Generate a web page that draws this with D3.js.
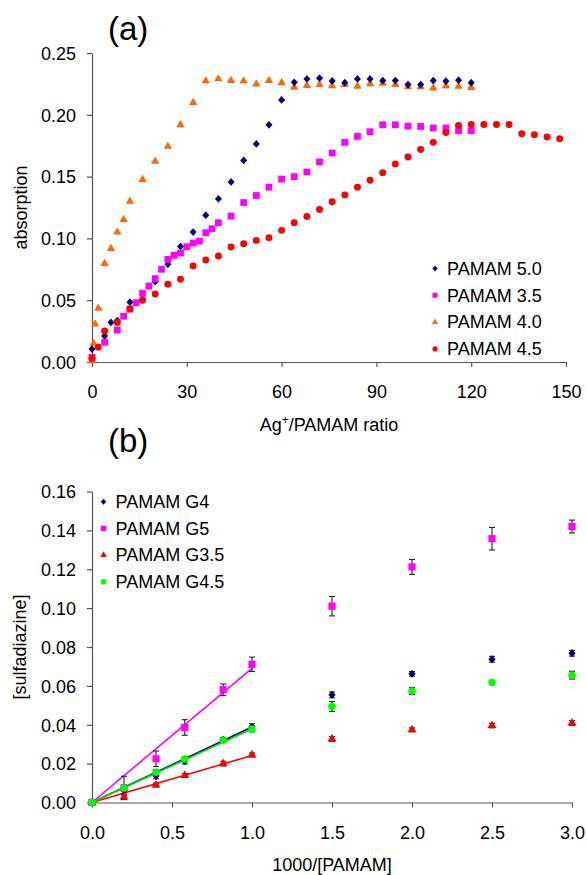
<!DOCTYPE html>
<html>
<head>
<meta charset="utf-8">
<script src="https://cdn.jsdelivr.net/npm/d3@7/dist/d3.min.js"></script>
<style>
  body { margin: 0; background: #fff; }
  text { font-family: "Liberation Sans", Arial, sans-serif; fill: #000; }
</style>
</head>
<body>
<svg id="chart" width="587" height="875"></svg>
<script>
// ---------- Panel (a): absorption vs Ag+/PAMAM ratio ----------
const ratioG50 = [0,4,6,8,12,16,20,24,28,32,36,40,44,48,52,56,60,64,68,72,76,80,84,88,92,96,100,104,108,112,116,120];
const absG50   = [0.0105,0.021,0.032,0.0335,0.0484,0.0508,0.065,0.079,0.0935,0.1051,0.1188,0.132,0.1457,0.1631,0.1764,0.1919,0.212,0.2263,0.229,0.2296,0.2274,0.226,0.229,0.229,0.2277,0.2277,0.2245,0.2245,0.2277,0.2272,0.228,0.226];

const ratioG35 = [0,4,8,10,12,14,16,18,20,22,24,26,28,30,32,34,36,38,40,44,48,52,56,60,64,68,72,76,80,84,88,92,96,100,104,108,112,116,120];
const absG35   = [0.0038,0.0159,0.0258,0.037,0.0427,0.048,0.0556,0.0615,0.0675,0.075,0.083,0.0863,0.0882,0.0933,0.0962,0.0978,0.1046,0.1078,0.1127,0.118,0.129,0.1347,0.1414,0.148,0.150,0.1537,0.1619,0.1691,0.1777,0.1825,0.1863,0.1919,0.1919,0.1909,0.1906,0.1893,0.1893,0.1871,0.1871];

const ratioG40 = [0,0.5,1,2,4,6,8,10,12,16,20,24,28,32,36,40,44,48,52,56,60,64,68,72,76,80,84,88,92,96,100,104,108,112,116,120];
const absG40   = [0.001,0.015,0.0306,0.0435,0.0796,0.0917,0.105,0.1153,0.130,0.1476,0.1623,0.1744,0.1919,0.2099,0.2274,0.229,0.2277,0.2274,0.2248,0.2277,0.2258,0.2223,0.2237,0.2245,0.2235,0.2245,0.223,0.225,0.2255,0.2245,0.2226,0.2226,0.2216,0.2235,0.223,0.222];

const ratioG45 = [0,2,4,8,12,16,20,24,28,32,36,40,44,48,52,56,60,64,68,72,76,80,84,88,92,96,100,104,108,112,116,120,124,128,132,136,140,144,148];
const absG45   = [0.003,0.012,0.025,0.032,0.043,0.050,0.055,0.063,0.067,0.0777,0.0825,0.0857,0.093,0.0957,0.0984,0.1005,0.1065,0.1127,0.1177,0.1234,0.1296,0.1352,0.1414,0.147,0.1532,0.1602,0.1659,0.172,0.1777,0.1857,0.1914,0.1922,0.1922,0.1922,0.1922,0.1847,0.1839,0.182,0.1806];

const seriesNamesA = ["PAMAM 5.0", "PAMAM 3.5", "PAMAM 4.0", "PAMAM 4.5"];
const xTicksA = [0, 30, 60, 90, 120, 150];
const yTicksA = [0, 0.05, 0.10, 0.15, 0.20, 0.25];

// ---------- Panel (b): [sulfadiazine] vs 1000/[PAMAM] ----------
const invConc = [0, 0.2, 0.4, 0.58, 0.82, 1.0, 1.5, 2.0, 2.5, 3.0];
const sulfG4   = [0, 0.0063, 0.0137, 0.0213, 0.0323, 0.039, 0.0554, 0.0662, 0.0737, 0.0768];
const sulfG5   = [0, 0.0075, 0.0225, 0.0386, 0.058, 0.0711, 0.101, 0.1212, 0.1357, 0.142];
const sulfG35  = [0, 0.0028, 0.009, 0.0139, 0.0200, 0.0245, 0.0327, 0.0374, 0.0396, 0.0409];
const sulfG45  = [0, 0.0075, 0.0156, 0.0224, 0.032, 0.0378, 0.0494, 0.0574, 0.0617, 0.0655];
const errG4    = [0, 0.002, 0.0015, 0.0015, 0.0012, 0.0015, 0.0015, 0.0012, 0.0015, 0.0015];
const errG5    = [0, 0.006, 0.004, 0.004, 0.003, 0.0037, 0.005, 0.0038, 0.0058, 0.0033];
const errG35   = [0, 0.001, 0.001, 0.001, 0.0012, 0.001, 0.0012, 0.001, 0.0012, 0.0012];
const errG45   = [0, 0.0015, 0.0012, 0.0012, 0.001, 0.0015, 0.0025, 0.0018, 0.001, 0.002];
// linear fits through the origin over the low-concentration range
const fitSlopes = { G4: 0.0388, G5: 0.069, G35: 0.0242, G45: 0.0378 };
const fitRange = [0, 1.0];

const seriesNamesB = ["PAMAM G4", "PAMAM G5", "PAMAM G3.5", "PAMAM G4.5"];
const xTicksB = [0, 0.5, 1.0, 1.5, 2.0, 2.5, 3.0];
const yTicksB = [0, 0.02, 0.04, 0.06, 0.08, 0.10, 0.12, 0.14, 0.16];

// ---------- shared styling ----------
const NAVY = "#000080", MAGENTA = "#ff00ff", ORANGE = "#ff6600", RED = "#ff0000", GREEN = "#00ff00";
const AXIS = "#555";
const FONT = 18;

// diamond marker slightly taller than wide
const diamondType = {
  draw(ctx, size) {
    const h = Math.sqrt(size) * 0.55, w = h * 0.9;
    ctx.moveTo(0, -h); ctx.lineTo(w, 0); ctx.lineTo(0, h); ctx.lineTo(-w, 0); ctx.closePath();
  }
};

const svg = d3.select("#chart");
svg.append("rect").attr("width", 587).attr("height", 875).attr("fill", "#fff");

function drawAxes(g, x, y, xTicks, yTicks, xFmt, yFmt) {
  const ax = g.append("g").attr("transform", `translate(0,${y(0)})`)
    .call(d3.axisBottom(x).tickValues(xTicks).tickFormat(xFmt).tickSize(5).tickPadding(18).tickSizeOuter(0));
  const ay = g.append("g").attr("transform", `translate(${x(0)},0)`)
    .call(d3.axisLeft(y).tickValues(yTicks).tickFormat(yFmt).tickSize(5).tickPadding(11).tickSizeOuter(0));
  [ax, ay].forEach(a => {
    a.select(".domain").attr("stroke", AXIS).attr("stroke-width", 1.2);
    a.selectAll(".tick line").attr("stroke", AXIS).attr("stroke-width", 1.2);
    a.selectAll(".tick text").attr("font-size", FONT).attr("font-family", '"Liberation Sans", Arial, sans-serif').attr("fill", "#000");
  });
  ax.selectAll(".tick text").attr("dy", null).attr("y", 36);
  ay.selectAll(".tick text").attr("dy", "0.35em");
}

function drawPoints(g, xs, ys, x, y, type, size, color) {
  g.append("g").selectAll("path")
    .data(xs.map((d, i) => [d, ys[i]]))
    .join("path")
    .attr("transform", d => `translate(${x(d[0])},${y(d[1])})`)
    .attr("d", d3.symbol().type(type).size(size))
    .attr("fill", color);
}

function drawLegend(g, x0, y0, step, names, markers) {
  names.forEach((name, i) => {
    const yy = y0 + i * step;
    g.append("path")
      .attr("transform", `translate(${x0},${yy})`)
      .attr("d", d3.symbol().type(markers[i].type).size(markers[i].size * 0.55))
      .attr("fill", markers[i].color);
    g.append("text").attr("x", x0 + 12).attr("y", yy).attr("dy", "0.35em")
      .attr("font-size", FONT).text(name);
  });
}

// ================= Panel (a) =================
const xA = d3.scaleLinear().domain([0, 150]).range([92, 566]);
const yA = d3.scaleLinear().domain([0, 0.25]).range([362, 53]);
const gA = svg.append("g");

drawAxes(gA, xA, yA, xTicksA, yTicksA, d3.format("d"), d3.format(".2f"));

const markA = [
  { xs: ratioG50, ys: absG50, type: diamondType, size: 50, color: NAVY },
  { xs: ratioG35, ys: absG35, type: d3.symbolSquare, size: 46, color: MAGENTA },
  { xs: ratioG40, ys: absG40, type: d3.symbolTriangle, size: 30, color: ORANGE },
  { xs: ratioG45, ys: absG45, type: d3.symbolCircle, size: 38, color: RED }
];
// stacking: triangles at the bottom, then diamonds, squares, circles
[2, 0, 1, 3].forEach(i => {
  const m = markA[i];
  drawPoints(gA, m.xs, m.ys, xA, yA, m.type, m.size, m.color);
});

drawLegend(gA, 435, 268.5, 26.8, seriesNamesA, markA);

gA.append("text").attr("x", 108).attr("y", 40).attr("font-size", 33).text("(a)");

const titleA = gA.append("text").attr("x", (xA(0) + xA(150)) / 2).attr("y", 431)
  .attr("text-anchor", "middle").attr("font-size", FONT);
titleA.append("tspan").text("Ag");
titleA.append("tspan").attr("dy", -7).attr("font-size", 12).text("+");
titleA.append("tspan").attr("dy", 7).text("/PAMAM ratio");

gA.append("text").attr("transform", `translate(27,${(yA(0) + yA(0.25)) / 2}) rotate(-90)`)
  .attr("text-anchor", "middle").attr("font-size", FONT).text("absorption");

// ================= Panel (b) =================
const xB = d3.scaleLinear().domain([0, 3]).range([92, 572]);
const yB = d3.scaleLinear().domain([0, 0.16]).range([802.5, 491.5]);
const gB = svg.append("g");

drawAxes(gB, xB, yB, xTicksB, yTicksB, d3.format(".1f"), d3.format(".2f"));

const markB = [
  { key: "G4",  ys: sulfG4,  err: errG4,  type: diamondType,      size: 54, color: NAVY },
  { key: "G5",  ys: sulfG5,  err: errG5,  type: d3.symbolSquare,   size: 52, color: MAGENTA },
  { key: "G35", ys: sulfG35, err: errG35, type: d3.symbolTriangle, size: 34, color: RED },
  { key: "G45", ys: sulfG45, err: errG45, type: d3.symbolCircle,   size: 44, color: GREEN }
];

// fitted lines
const lineColors = { G4: NAVY, G5: MAGENTA, G35: RED, G45: "#00e000" };
["G4", "G5", "G35", "G45"].forEach(k => {
  gB.append("line")
    .attr("x1", xB(fitRange[0])).attr("y1", yB(fitSlopes[k] * fitRange[0]))
    .attr("x2", xB(fitRange[1])).attr("y2", yB(fitSlopes[k] * fitRange[1]))
    .attr("stroke", lineColors[k]).attr("stroke-width", 1.6);
});

// error bars
markB.forEach(m => {
  const eg = gB.append("g").attr("stroke", "#222").attr("stroke-width", 1.1);
  invConc.forEach((xv, i) => {
    const e = m.err[i];
    if (!e) return;
    const cx = xB(xv), top = yB(m.ys[i] + e), bot = yB(m.ys[i] - e);
    eg.append("line").attr("x1", cx).attr("x2", cx).attr("y1", top).attr("y2", bot);
    eg.append("line").attr("x1", cx - 3).attr("x2", cx + 3).attr("y1", top).attr("y2", top);
    eg.append("line").attr("x1", cx - 3).attr("x2", cx + 3).attr("y1", bot).attr("y2", bot);
  });
});

markB.forEach(m => drawPoints(gB, invConc, m.ys, xB, yB, m.type, m.size, m.color));

drawLegend(gB, 103.5, 501.7, 26.7, seriesNamesB, markB);

gB.append("text").attr("x", 108).attr("y", 452).attr("font-size", 33).text("(b)");

gB.append("text").attr("x", (xB(0) + xB(3)) / 2).attr("y", 871)
  .attr("text-anchor", "middle").attr("font-size", FONT).text("1000/[PAMAM]");

gB.append("text").attr("transform", `translate(26,${(yB(0) + yB(0.16)) / 2}) rotate(-90)`)
  .attr("text-anchor", "middle").attr("font-size", FONT).text("[sulfadiazine]");
</script>
</body>
</html>
